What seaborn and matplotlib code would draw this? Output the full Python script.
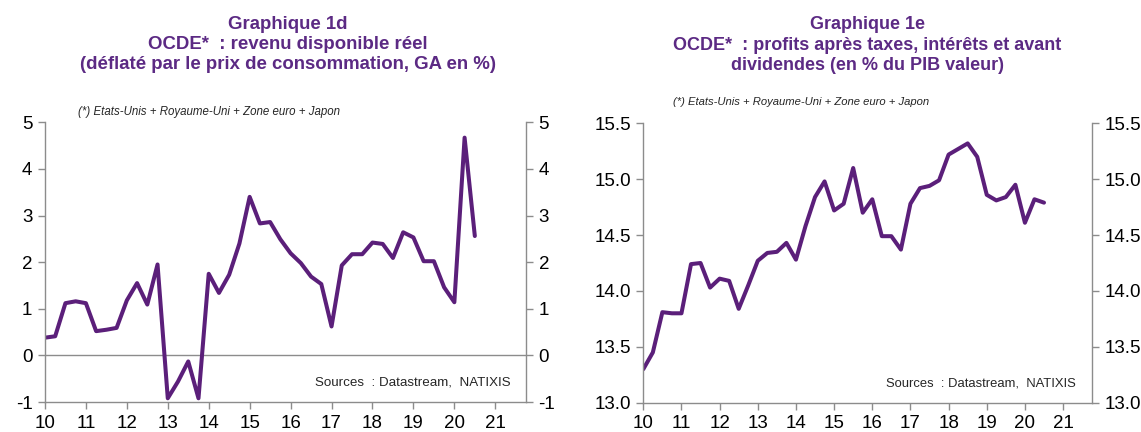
import numpy as np
import pandas as pd
import matplotlib
matplotlib.use("Agg")
import matplotlib.pyplot as plt
import seaborn as sns

# quarterly dates, 2010 Q1 .. 2020 Q3, expressed as year - 2000
quarters = np.arange(10.0, 20.51, 0.25)

# Graphique 1d : revenu disponible reel (GA en %)
revenu = [0.38, 0.41, 1.12, 1.16, 1.12, 0.52, 0.55, 0.59,
          1.18, 1.55, 1.09, 1.95, -0.92, -0.56, -0.13, -0.92,
          1.75, 1.34, 1.73, 2.40, 3.40, 2.83, 2.86, 2.49,
          2.19, 1.98, 1.69, 1.53, 0.62, 1.93, 2.17, 2.17,
          2.42, 2.39, 2.09, 2.64, 2.53, 2.02, 2.02, 1.46,
          1.14, 4.67, 2.56]

# Graphique 1e : profits (en % du PIB valeur)
profits = [13.30, 13.45, 13.81, 13.80, 13.80, 14.24, 14.25, 14.03,
           14.11, 14.09, 13.84, 14.05, 14.27, 14.34, 14.35, 14.43,
           14.28, 14.58, 14.84, 14.98, 14.72, 14.78, 15.10, 14.70,
           14.82, 14.49, 14.49, 14.37, 14.78, 14.92, 14.94, 14.99,
           15.22, 15.27, 15.32, 15.20, 14.86, 14.81, 14.84, 14.95,
           14.61, 14.82, 14.79]

year_ticks = list(range(10, 22))
title_1d = "Graphique 1d\nOCDE*  : revenu disponible réel\n(déflaté par le prix de consommation, GA en %)"
title_1e = "Graphique 1e\nOCDE*  : profits après taxes, intérêts et avant\ndividendes (en % du PIB valeur)"
note = "(*) Etats-Unis + Royaume-Uni + Zone euro + Japon"
sources = "Sources  : Datastream,  NATIXIS"

purple = "#5b1f7a"
title_col = "#5c2a84"
grey = "#8c8c8c"

sns.set_style("white")
plt.rcParams['font.family'] = ['Liberation Sans', 'DejaVu Sans']

df1 = pd.DataFrame({"date": quarters, "val": revenu})
df2 = pd.DataFrame({"date": quarters, "val": profits})

fig = plt.figure(figsize=(11.41, 4.32), dpi=100)
ax1 = fig.add_axes([0.0394, 0.0694, 0.4216, 0.6476])
ax2 = fig.add_axes([0.5638, 0.0678, 0.3930, 0.6468])


def style_axes(ax, ylim, yticks, fmt):
    ax.set_xlim(10, 21.75)
    ax.set_ylim(*ylim)
    ax.set_xticks(year_ticks)
    ax.set_xticklabels([str(t) for t in year_ticks], fontsize=13.5)
    ax.set_yticks(yticks)
    ax.set_yticklabels([fmt.format(v) for v in yticks], fontsize=13.5)
    ax.set_xlabel("")
    ax.set_ylabel("")
    ax.spines["top"].set_visible(False)
    for s in ["left", "right", "bottom"]:
        ax.spines[s].set_color(grey)
        ax.spines[s].set_linewidth(1.0)
    ax.tick_params(axis="both", direction="out", length=5, color=grey,
                   width=1.0, pad=4, labelcolor="black")
    ax.tick_params(axis="y", left=True, right=True, labelleft=True, labelright=True)
    ax.tick_params(axis="x", bottom=True, pad=4)


sns.lineplot(data=df1, x="date", y="val", ax=ax1, color=purple, linewidth=2.9)
ax1.axhline(0, color=grey, linewidth=1.0, zorder=1)
style_axes(ax1, (-1, 5), [-1, 0, 1, 2, 3, 4, 5], "{:.0f}")

sns.lineplot(data=df2, x="date", y="val", ax=ax2, color=purple, linewidth=2.9)
style_axes(ax2, (13.0, 15.5), [13.0, 13.5, 14.0, 14.5, 15.0, 15.5], "{:.1f}")

fig.text(0.252, 0.962, title_1d, ha="center", va="top", fontsize=13.4,
         fontweight="bold", color=title_col, linespacing=1.22)
fig.text(0.760, 0.962, title_1e, ha="center", va="top", fontsize=13.0,
         fontweight="bold", color=title_col, linespacing=1.26)

fig.text(0.068, 0.74, note, ha="left", va="center", fontsize=8.3, style="italic")
fig.text(0.590, 0.765, note, ha="left", va="center", fontsize=8.1, style="italic")

ax1.text(0.967, 0.068, sources, transform=ax1.transAxes, ha="right",
         va="center", fontsize=9.6)
ax2.text(0.964, 0.068, sources, transform=ax2.transAxes, ha="right",
         va="center", fontsize=9.4)

fig.savefig("out.png", dpi=100)
